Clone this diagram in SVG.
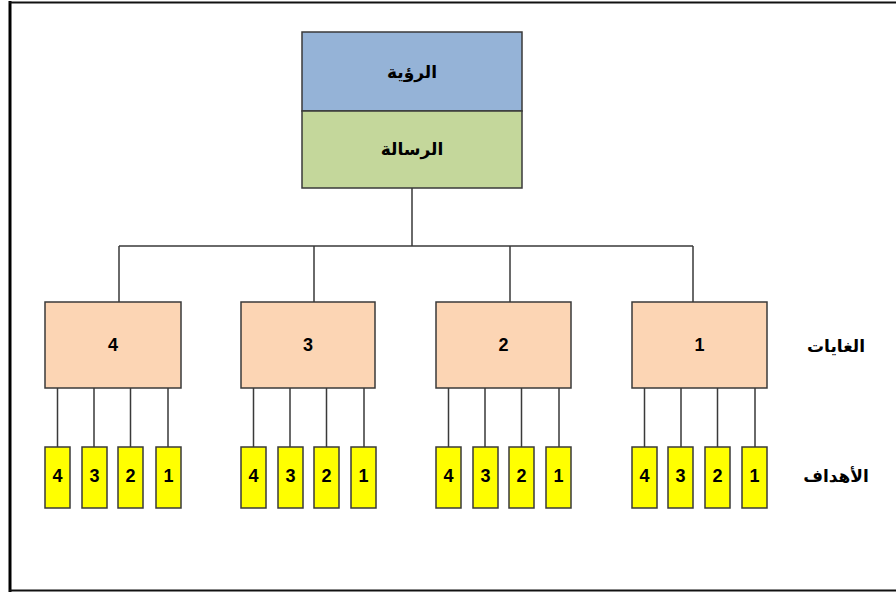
<svg xmlns="http://www.w3.org/2000/svg" width="896" height="593" viewBox="0 0 896 593">
<style>
.ln{stroke:#3a3a3a;stroke-width:1.5;fill:none}
.box{stroke:#3a3a3a;stroke-width:1.5}
.t{font-family:"Liberation Sans","DejaVu Sans",sans-serif;font-weight:bold;font-size:17px;fill:#000;text-anchor:middle;dominant-baseline:central}
.n{font-size:18px}
.goal{fill:#FCD5B4}
.obj{fill:#FFFF00}
</style>
<g id="frame">
<line x1="10" y1="1" x2="10" y2="592" stroke="#000" stroke-width="3"/>
<line x1="9" y1="2.5" x2="896" y2="2.5" stroke="#111" stroke-width="2"/>
<line x1="9" y1="590.5" x2="896" y2="590.5" stroke="#111" stroke-width="2"/>
</g>
<g id="connectors">
<path class="ln" d="M412 188V246M119 246H693M119 246V302M314 246V302M510 246V302M693 246V302"/>
<path class="ln" d="M57.5 388V447M94 388V447M130.5 388V447M168 388V447"/>
<path class="ln" d="M253.5 388V447M290 388V447M326.5 388V447M364 388V447"/>
<path class="ln" d="M448.5 388V447M485 388V447M521.5 388V447M559 388V447"/>
<path class="ln" d="M644.5 388V447M681 388V447M717.5 388V447M755 388V447"/>
</g>
<g id="vision"><rect class="box" x="302" y="32" width="220" height="79" fill="#95B3D7"/><text class="t" x="412" y="72">الرؤية</text></g>
<g id="mission"><rect class="box" x="302" y="111" width="220" height="77" fill="#C4D79B"/><text class="t" x="412" y="149">الرسالة</text></g>
<g id="goal4"><rect class="box goal" x="45" y="302" width="136" height="86"/><text class="t n" x="113" y="345">4</text></g>
<g id="goal3"><rect class="box goal" x="241" y="302" width="134" height="86"/><text class="t n" x="308" y="345">3</text></g>
<g id="goal2"><rect class="box goal" x="436" y="302" width="135" height="86"/><text class="t n" x="503.5" y="345">2</text></g>
<g id="goal1"><rect class="box goal" x="632" y="302" width="135" height="86"/><text class="t n" x="699.5" y="345">1</text></g>
<g id="g4o4"><rect class="box obj" x="45" y="447" width="25" height="61"/><text class="t n" x="57.5" y="476">4</text></g>
<g id="g4o3"><rect class="box obj" x="82" y="447" width="25" height="61"/><text class="t n" x="94.5" y="476">3</text></g>
<g id="g4o2"><rect class="box obj" x="118" y="447" width="25" height="61"/><text class="t n" x="130.5" y="476">2</text></g>
<g id="g4o1"><rect class="box obj" x="156" y="447" width="25" height="61"/><text class="t n" x="168.5" y="476">1</text></g>
<g id="g3o4"><rect class="box obj" x="241" y="447" width="25" height="61"/><text class="t n" x="253.5" y="476">4</text></g>
<g id="g3o3"><rect class="box obj" x="278" y="447" width="25" height="61"/><text class="t n" x="290.5" y="476">3</text></g>
<g id="g3o2"><rect class="box obj" x="314" y="447" width="25" height="61"/><text class="t n" x="326.5" y="476">2</text></g>
<g id="g3o1"><rect class="box obj" x="351" y="447" width="25" height="61"/><text class="t n" x="363.5" y="476">1</text></g>
<g id="g2o4"><rect class="box obj" x="436" y="447" width="25" height="61"/><text class="t n" x="448.5" y="476">4</text></g>
<g id="g2o3"><rect class="box obj" x="473" y="447" width="25" height="61"/><text class="t n" x="485.5" y="476">3</text></g>
<g id="g2o2"><rect class="box obj" x="509" y="447" width="25" height="61"/><text class="t n" x="521.5" y="476">2</text></g>
<g id="g2o1"><rect class="box obj" x="546" y="447" width="25" height="61"/><text class="t n" x="558.5" y="476">1</text></g>
<g id="g1o4"><rect class="box obj" x="632" y="447" width="25" height="61"/><text class="t n" x="644.5" y="476">4</text></g>
<g id="g1o3"><rect class="box obj" x="668" y="447" width="25" height="61"/><text class="t n" x="680.5" y="476">3</text></g>
<g id="g1o2"><rect class="box obj" x="705" y="447" width="25" height="61"/><text class="t n" x="717.5" y="476">2</text></g>
<g id="g1o1"><rect class="box obj" x="742" y="447" width="25" height="61"/><text class="t n" x="754.5" y="476">1</text></g>
<g id="label-goals"><text class="t" x="836" y="346">الغايات</text></g>
<g id="label-objectives"><text class="t" x="836" y="476">الأهداف</text></g>
</svg>
